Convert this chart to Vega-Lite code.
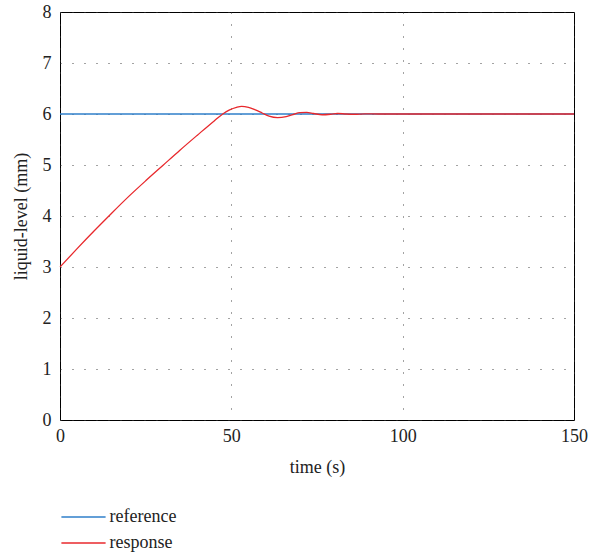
{
  "$schema": "https://vega.github.io/schema/vega-lite/v6.json",
  "width": 514,
  "height": 408,
  "autosize": {"type": "none"},
  "padding": {"left": 60, "top": 12, "right": 20, "bottom": 136},
  "background": "white",
  "config": {
    "font": "Liberation Serif",
    "view": {"stroke": "#000000", "strokeWidth": 1}
  },
  "data": {
    "values": [
      {"series": "reference", "t": 0, "v": 6},
      {"series": "reference", "t": 150, "v": 6},
      {"series": "response", "t": 0, "v": 3.0},
      {"series": "response", "t": 5, "v": 3.36},
      {"series": "response", "t": 10, "v": 3.71},
      {"series": "response", "t": 15, "v": 4.05},
      {"series": "response", "t": 20, "v": 4.38},
      {"series": "response", "t": 25, "v": 4.69},
      {"series": "response", "t": 30, "v": 4.99},
      {"series": "response", "t": 35, "v": 5.29},
      {"series": "response", "t": 40, "v": 5.58},
      {"series": "response", "t": 45, "v": 5.865},
      {"series": "response", "t": 47.5, "v": 6.0},
      {"series": "response", "t": 49.5, "v": 6.08},
      {"series": "response", "t": 51.5, "v": 6.13},
      {"series": "response", "t": 53, "v": 6.15},
      {"series": "response", "t": 55, "v": 6.13},
      {"series": "response", "t": 57, "v": 6.08},
      {"series": "response", "t": 59, "v": 6.02},
      {"series": "response", "t": 61, "v": 5.96},
      {"series": "response", "t": 63.5, "v": 5.93},
      {"series": "response", "t": 66, "v": 5.95},
      {"series": "response", "t": 68, "v": 5.99},
      {"series": "response", "t": 70, "v": 6.025},
      {"series": "response", "t": 72, "v": 6.03},
      {"series": "response", "t": 74, "v": 6.01},
      {"series": "response", "t": 76.5, "v": 5.985},
      {"series": "response", "t": 79, "v": 5.995},
      {"series": "response", "t": 81, "v": 6.01},
      {"series": "response", "t": 83.5, "v": 6.0},
      {"series": "response", "t": 86, "v": 5.995},
      {"series": "response", "t": 89, "v": 6.003},
      {"series": "response", "t": 93, "v": 6.0},
      {"series": "response", "t": 150, "v": 6.0}
    ]
  },
  "mark": {"type": "line", "strokeWidth": 1.3, "interpolate": "monotone"},
  "encoding": {
    "x": {
      "field": "t",
      "type": "quantitative",
      "scale": {"domain": [0, 150], "nice": false, "zero": false},
      "axis": {
        "title": "time (s)",
        "values": [0, 50, 100, 150],
        "grid": true,
        "gridDash": [1, 11],
        "gridColor": "#333333",
        "gridOpacity": 0.9,
        "domain": false,
        "ticks": false,
        "labelPadding": 7,
        "labelFont": "Liberation Serif",
        "labelFontSize": 18,
        "labelColor": "#222222",
        "titleFont": "Liberation Serif",
        "titleFontSize": 18,
        "titleFontWeight": "normal",
        "titleColor": "#222222",
        "titlePadding": 13,
        "labelFlush": false
      }
    },
    "y": {
      "field": "v",
      "type": "quantitative",
      "scale": {"domain": [0, 8], "nice": false},
      "axis": {
        "title": "liquid-level (mm)",
        "values": [0, 1, 2, 3, 4, 5, 6, 7, 8],
        "grid": true,
        "gridDash": [1, 11],
        "gridColor": "#333333",
        "gridOpacity": 0.9,
        "domain": false,
        "ticks": false,
        "labelPadding": 9,
        "labelFont": "Liberation Serif",
        "labelFontSize": 18,
        "labelColor": "#222222",
        "titleFont": "Liberation Serif",
        "titleFontSize": 18,
        "titleFontWeight": "normal",
        "titleColor": "#222222",
        "titlePadding": 12,
        "labelFlush": false
      }
    },
    "color": {
      "field": "series",
      "type": "nominal",
      "scale": {"domain": ["reference", "response"], "range": ["#2f7fca", "#e8282c"]},
      "legend": {
        "title": null,
        "orient": "none",
        "legendX": 9.5,
        "legendY": 491,
        "symbolType": "M-1.7,0H1.7",
        "symbolSize": 676,
        "symbolStrokeWidth": 1.3,
        "labelFont": "Liberation Serif",
        "labelFontSize": 18,
        "labelColor": "#222222",
        "labelOffset": 12,
        "rowPadding": 3
      }
    }
  }
}
